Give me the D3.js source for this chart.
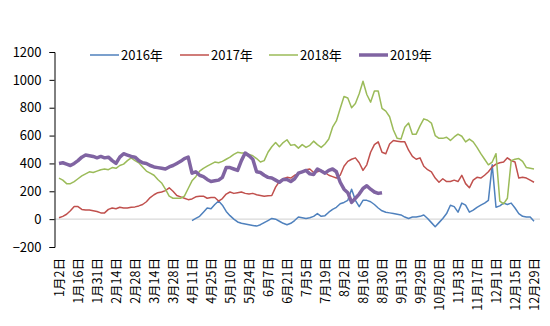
<!DOCTYPE html>
<html><head><meta charset="utf-8">
<script src="https://cdn.jsdelivr.net/npm/d3@7"></script>
<style>
html,body{margin:0;padding:0;background:#fff;}
svg{display:block;font-family:"Noto Sans CJK SC","Noto Sans",sans-serif;}
</style></head>
<body>
<svg id="chart" width="550" height="326"></svg>
<script>
// tick labels shown on the category axis (every 5th point)
const tickLabels = ["1月2日","1月16日","1月31日","2月14日","2月28日","3月14日","3月28日","4月11日","4月25日","5月10日","5月24日","6月7日","6月21日","7月5日","7月19日","8月2日","8月16日","8月30日","9月13日","9月29日","10月20日","11月3日","11月17日","12月1日","12月15日","12月29日"];
const seriesNames = ["2016年","2017年","2018年","2019年"];
const yTicks = [-200,0,200,400,600,800,1000,1200];

const s2016 = [null,null,null,null,null,null,null,null,null,null,
 null,null,null,null,null,null,null,null,null,null,
 null,null,null,null,null,null,null,null,null,null,
 null,null,null,null,null,-10,5,20,50,80,
 75,105,130,100,55,25,0,-20,-30,-35,
 -40,-45,-50,-40,-25,-10,5,0,-15,-30,
 -40,-30,-10,15,10,5,10,20,40,20,
 25,50,70,85,110,120,135,215,135,90,
 135,135,125,105,80,60,50,45,40,35,
 30,15,5,15,15,20,30,5,-25,-55,
 -25,5,40,100,90,50,115,100,50,65,
 85,100,115,135,390,85,95,115,105,115,
 80,40,20,15,15,-15];

const s2017 = [10,20,35,60,90,90,70,65,65,60,
 55,45,45,70,80,75,85,80,80,85,
 88,95,105,125,155,175,190,195,205,225,
 200,170,160,150,140,145,160,165,165,150,
 155,155,130,148,180,195,185,190,195,185,
 180,185,175,170,165,168,170,230,270,290,
 300,295,315,325,340,355,360,335,340,350,
 335,315,305,295,315,380,415,430,440,405,
 350,390,480,535,555,480,470,540,565,560,
 555,555,495,450,430,440,380,355,340,295,
 265,290,270,270,280,270,315,255,225,280,
 300,295,315,340,375,395,405,410,440,420,
 410,295,300,295,280,265];

const s2018 = [295,280,255,255,270,290,310,325,340,335,
 345,355,360,355,370,365,385,395,420,440,
 420,405,375,345,330,315,285,260,215,165,
 150,150,150,165,220,275,305,345,365,380,
 395,410,405,415,430,445,465,480,475,475,
 465,455,435,410,420,480,520,550,520,550,
 570,530,535,510,535,515,530,560,535,515,
 540,575,660,705,795,880,870,800,830,900,
 990,895,840,920,920,795,775,735,640,580,
 575,660,690,610,610,670,720,710,690,600,
 580,580,588,565,590,610,595,555,575,555,
 515,470,430,390,410,470,130,110,150,420,
 430,435,415,370,365,360];

const s2019 = [400,405,395,385,400,420,445,460,455,450,
 440,450,440,445,420,400,445,470,460,450,
 445,420,405,400,385,375,370,365,360,375,
 385,400,415,435,445,330,340,315,305,285,
 270,275,280,300,370,370,360,350,420,475,
 455,430,340,335,315,300,295,280,265,285,
 285,270,290,330,340,350,325,320,360,345,
 330,350,360,340,265,215,190,120,150,180,
 220,240,215,195,185,190];

const allSeries = [s2016, s2017, s2018, s2019];
const colors = ["#4F81BD","#C0504D","#9BBB59","#8064A2"];
const widths = [1.5,1.5,1.5,3.5];

const svg = d3.select("#chart");
const x = d3.scaleLinear().domain([0, s2017.length - 1]).range([59, 534]);
const y = d3.scaleLinear().domain([-200, 1200]).range([247, 52]);

// zero line (category axis)
svg.append("line")
  .attr("x1", 54).attr("x2", 540)
  .attr("y1", y(0)).attr("y2", y(0))
  .attr("stroke", "#d9d9d9").attr("stroke-width", 1.2);

// y axis
const yAxis = d3.axisLeft(y).tickValues(yTicks).tickSize(5).tickPadding(8).tickFormat(d3.format("d"));
const gy = svg.append("g").attr("transform", "translate(54.5,0)").call(yAxis);
gy.select(".domain").attr("stroke", "#000").attr("stroke-width", 1);
gy.selectAll(".tick line").attr("stroke", "#000");
gy.selectAll("text").attr("font-size", 13).attr("fill", "#000")
  .attr("font-family", "'Noto Sans CJK SC', sans-serif");

// x axis labels
const xTickVals = tickLabels.map((d, i) => i * 5);
const xAxis = d3.axisBottom(x).tickValues(xTickVals).tickSize(0).tickFormat((d, i) => tickLabels[i]);
const gx = svg.append("g").attr("transform", "translate(0,258)").call(xAxis);
gx.select(".domain").remove();
gx.selectAll("text")
  .attr("font-size", 12.5).attr("fill", "#000")
  .attr("font-family", "'Noto Sans CJK SC', sans-serif")
  .attr("transform", "rotate(-90)")
  .attr("text-anchor", "end")
  .attr("x", 0).attr("y", 0).attr("dy", "0.35em");

// lines
const line = d3.line()
  .defined(d => d != null)
  .x((d, i) => x(i))
  .y(d => y(d));

allSeries.forEach((s, k) => {
  svg.append("path")
    .datum(s)
    .attr("fill", "none")
    .attr("stroke", colors[k])
    .attr("stroke-width", widths[k])
    .attr("stroke-linejoin", "round")
    .attr("d", d3.line().defined(d => d != null).x((d, i) => x(i)).y(d => y(d)));
});

// legend
const legendX = [90, 180, 269, 359];
const lg = svg.append("g");
seriesNames.forEach((n, k) => {
  lg.append("line")
    .attr("x1", legendX[k]).attr("x2", legendX[k] + 29)
    .attr("y1", 55).attr("y2", 55)
    .attr("stroke", colors[k]).attr("stroke-width", widths[k]);
  lg.append("text")
    .attr("x", legendX[k] + 31).attr("y", 55).attr("dy", "0.35em")
    .attr("font-size", 13).attr("fill", "#000")
    .text(n);
});
</script>
</body></html>
